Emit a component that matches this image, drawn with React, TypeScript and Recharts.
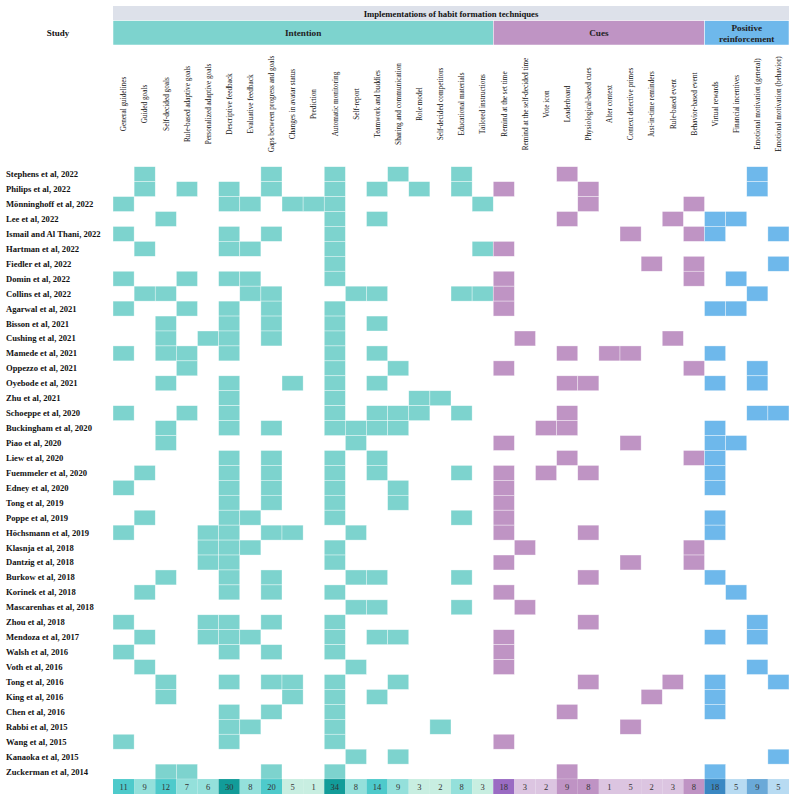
import React from 'react';
import { ScatterChart, Scatter, XAxis, YAxis } from 'recharts';

const studies = [
  'Stephens et al, 2022', 'Philips et al, 2022', 'Mönninghoff et al, 2022', 'Lee et al, 2022',
  'Ismail and Al Thani, 2022', 'Hartman et al, 2022', 'Fiedler et al, 2022', 'Domin et al, 2022',
  'Collins et al, 2022', 'Agarwal et al, 2021', 'Bisson et al, 2021', 'Cushing et al, 2021',
  'Mamede et al, 2021', 'Oppezzo et al, 2021', 'Oyebode et al, 2021', 'Zhu et al, 2021',
  'Schoeppe et al, 2020', 'Buckingham et al, 2020', 'Piao et al, 2020', 'Liew et al, 2020',
  'Fuemmeler et al, 2020', 'Edney et al, 2020', 'Tong et al, 2019', 'Poppe et al, 2019',
  'Höchsmann et al, 2019', 'Klasnja et al, 2018', 'Dantzig et al, 2018', 'Burkow et al, 2018',
  'Korinek et al, 2018', 'Mascarenhas et al, 2018', 'Zhou et al, 2018', 'Mendoza et al, 2017',
  'Walsh et al, 2016', 'Voth et al, 2016', 'Tong et al, 2016', 'King et al, 2016',
  'Chen et al, 2016', 'Rabbi et al, 2015', 'Wang et al, 2015', 'Kanaoka et al, 2015',
  'Zuckerman et al, 2014',
];

const techniques = [
  'General guidelines', 'Guided goals', 'Self-decided goals', 'Rule-based adaptive goals',
  'Personalized adaptive goals', 'Descriptive feedback', 'Evaluative feedback',
  'Gaps between progress and goals', 'Changes in avatar status', 'Prediction',
  'Automatic monitoring', 'Self-report', 'Teamwork and buddies', 'Sharing and communication',
  'Role model', 'Self-decided competitors', 'Educational materials', 'Tailored instructions',
  'Remind at the set time', 'Remind at the self-decided time', 'Vote icon', 'Leaderboard',
  'Physiological-based cues', 'Alter context', 'Context detective primes',
  'Just-in-time reminders', 'Rule-based event', 'Behavior-based event',
  'Virtual rewards', 'Financial incentives', 'Emotional motivation (general)',
  'Emotional motivation (behavior)',
];

const groupNames = ['Intention', 'Cues', 'Positive reinforcement'];
const groupSizes = [18, 10, 4];

// technique indexes used by each study (same order as studies)
const studyTechniques: number[][] = [
  [1, 7, 10, 13, 16, 21, 30],
  [1, 3, 5, 7, 10, 12, 14, 16, 18, 22, 30],
  [0, 5, 6, 8, 9, 10, 17, 22, 27],
  [2, 10, 12, 21, 26, 28, 29],
  [0, 5, 7, 10, 24, 27, 28, 31],
  [1, 5, 6, 10, 17, 18],
  [10, 25, 27, 31],
  [0, 3, 5, 6, 10, 18, 27, 29],
  [1, 2, 6, 7, 11, 12, 16, 17, 18, 30],
  [0, 3, 5, 7, 10, 18, 28, 29],
  [2, 5, 7, 10, 12],
  [2, 4, 5, 7, 10, 19, 26],
  [0, 2, 3, 5, 10, 12, 21, 23, 24, 28],
  [3, 10, 13, 18, 27, 30],
  [2, 5, 8, 10, 12, 21, 22, 28, 30],
  [5, 10, 14, 15],
  [0, 3, 5, 10, 12, 13, 14, 16, 21, 30, 31],
  [2, 5, 7, 10, 11, 12, 13, 20, 21, 28],
  [2, 11, 18, 24, 28, 29],
  [5, 7, 10, 12, 21, 27, 28],
  [1, 5, 7, 10, 12, 16, 18, 20, 22, 28],
  [0, 5, 7, 10, 13, 18, 28],
  [5, 7, 10, 13, 18],
  [1, 5, 6, 10, 16, 18, 28],
  [0, 4, 5, 7, 8, 11, 18, 22, 28],
  [4, 5, 6, 10, 19, 27],
  [4, 5, 10, 18, 24, 27],
  [2, 5, 7, 11, 12, 16, 22, 28],
  [1, 5, 7, 10, 18, 29],
  [11, 12, 16, 19],
  [0, 4, 5, 7, 10, 22, 30],
  [1, 4, 5, 6, 10, 12, 13, 18, 28, 30],
  [0, 5, 7, 10, 18],
  [1, 11, 18, 30],
  [2, 5, 7, 8, 10, 13, 22, 26, 28, 31],
  [2, 8, 10, 12, 25, 28],
  [5, 7, 10, 21, 28],
  [5, 6, 10, 15, 24],
  [0, 5, 10, 18],
  [11, 13, 31],
  [2, 3, 7, 10, 21, 28],
];

const techniqueCounts = [
  11, 9, 12, 7, 6, 30, 8, 20, 5, 1, 34, 8, 14, 9, 3, 2, 8, 3,
  18, 3, 2, 9, 8, 1, 5, 2, 3, 8,
  18, 5, 9, 5,
];

const W = 797;
const H = 800;
const MARGIN = { top: 45, right: 8, bottom: 6, left: 0 };
const LABEL_W = 113;
const HEADER_H = 121.7;
const NCOL = techniques.length;
const NROW = studies.length + 1;
const CELL_W = (W - MARGIN.left - MARGIN.right - LABEL_W) / NCOL;
const CELL_H = (H - MARGIN.top - MARGIN.bottom - HEADER_H) / NROW;
const FONT = "'Liberation Serif', 'Times New Roman', serif";

const fills = ['#7dd3ce', '#bf94c4', '#6eb8eb'];
const countScales = [
  ['#c8eee1', '#94e0db', '#4ecacb', '#129c99'],
  ['#dcc5e1', '#bf93c4', '#9a6bc3', '#9a6bc3'],
  ['#b8dbf2', '#6aa9d8', '#3a88c3', '#3a88c3'],
];

const groupOf = (col: number) => {
  let acc = 0;
  for (let g = 0; g < groupSizes.length; g++) {
    acc += groupSizes[g];
    if (col < acc) return g;
  }
  return groupSizes.length - 1;
};

const countColor = (g: number, v: number) => {
  const s = countScales[g];
  if (v <= 5) return s[0];
  if (v <= 9) return s[1];
  if (v <= 20) return s[2];
  return s[3];
};

const cells = studyTechniques.flatMap((cols, row) =>
  cols.map((col) => ({ x: col + 0.5, y: row + 0.5, g: groupOf(col) }))
);
const cellsByGroup = groupNames.map((_, g) => cells.filter((c) => c.g === g));
const countRow = techniqueCounts.map((v, col) => ({ x: col + 0.5, y: studies.length + 0.5, v, g: groupOf(col) }));

const CellShape = (props: any) => {
  const { cx, cy, payload } = props;
  return (
    <rect
      x={cx - CELL_W / 2}
      y={cy - CELL_H / 2}
      width={CELL_W}
      height={CELL_H}
      fill={fills[payload.g]}
      stroke="#ffffff"
      strokeOpacity={0.6}
      strokeWidth={0.6}
    />
  );
};

const CountShape = (props: any) => {
  const { cx, cy, payload } = props;
  return (
    <g>
      <rect x={cx - CELL_W / 2} y={cy - CELL_H / 2} width={CELL_W} height={CELL_H} fill={countColor(payload.g, payload.v)} />
      <text x={cx} y={cy + 3} textAnchor="middle" fontFamily={FONT} fontSize={8.5} fill="#333">
        {payload.v}
      </text>
    </g>
  );
};

const StudyTick = (props: any) => {
  const { y, payload } = props;
  const name = studies[Math.floor(payload.value)];
  return (
    <text x={6} y={y + 3} textAnchor="start" fontFamily={FONT} fontWeight="bold" fontSize={8.6} fill="#111">
      {name}
    </text>
  );
};

// the labels in the figure are a bit squeezed along their length
const TechniqueTick = (props: any) => {
  const { x, payload } = props;
  const name = techniques[Math.floor(payload.value)];
  return (
    <text
      transform={`translate(${x + 2.8}, 104) rotate(-90) scale(0.92, 1)`}
      textAnchor="middle"
      fontFamily={FONT}
      fontSize={7.9}
      fill="#111"
    >
      {name}
    </text>
  );
};

const Header = () => {
  const x0 = MARGIN.left + LABEL_W;
  const gridW = CELL_W * NCOL;
  let start = 0;
  return (
    <svg width={W} height={50} style={{ position: 'absolute', left: 0, top: 0, pointerEvents: 'none' }}>
      <text x={58} y={36} textAnchor="middle" fontFamily={FONT} fontWeight="bold" fontSize={9} fill="#111">Study</text>
      <rect x={x0} y={6} width={gridW} height={14.7} fill="#dde1ea" />
      <text x={x0 + gridW / 2} y={16.5} textAnchor="middle" fontFamily={FONT} fontWeight="bold" fontSize={8.7} fill="#111">
        Implementations of habit formation techniques
      </text>
      {groupNames.map((name, g) => {
        const gx = x0 + start * CELL_W;
        const gw = groupSizes[g] * CELL_W;
        start += groupSizes[g];
        const words = name === 'Positive reinforcement' ? ['Positive', 'reinforcement'] : [name];
        return (
          <g key={name}>
            <rect x={gx} y={20.7} width={gw} height={24.3} fill={fills[g]} stroke="#ffffff" strokeWidth={0.5} />
            {words.map((w, i) => (
              <text
                key={w}
                x={gx + gw / 2}
                y={words.length > 1 ? 31 + i * 10.5 : 36}
                textAnchor="middle"
                fontFamily={FONT}
                fontWeight="bold"
                fontSize={9.2}
                fill="#222"
              >
                {w}
              </text>
            ))}
          </g>
        );
      })}
    </svg>
  );
};

export default function App() {
  return (
    <div style={{ position: 'absolute', left: 0, top: 0, width: W, height: H, background: '#ffffff' }}>
      <ScatterChart width={W} height={H} margin={MARGIN}>
        <XAxis
          type="number"
          dataKey="x"
          domain={[0, NCOL]}
          ticks={techniques.map((_, i) => i + 0.5)}
          interval={0}
          orientation="top"
          height={HEADER_H}
          axisLine={false}
          tickLine={false}
          tick={<TechniqueTick />}
        />
        <YAxis
          type="number"
          dataKey="y"
          domain={[0, NROW]}
          reversed
          ticks={studies.map((_, i) => i + 0.5)}
          interval={0}
          width={LABEL_W}
          axisLine={false}
          tickLine={false}
          tick={<StudyTick />}
        />
        {cellsByGroup.map((data, g) => (
          <Scatter key={g} data={data} shape={<CellShape />} isAnimationActive={false} />
        ))}
        <Scatter data={countRow} shape={<CountShape />} isAnimationActive={false} />
      </ScatterChart>
      <Header />
    </div>
  );
}
